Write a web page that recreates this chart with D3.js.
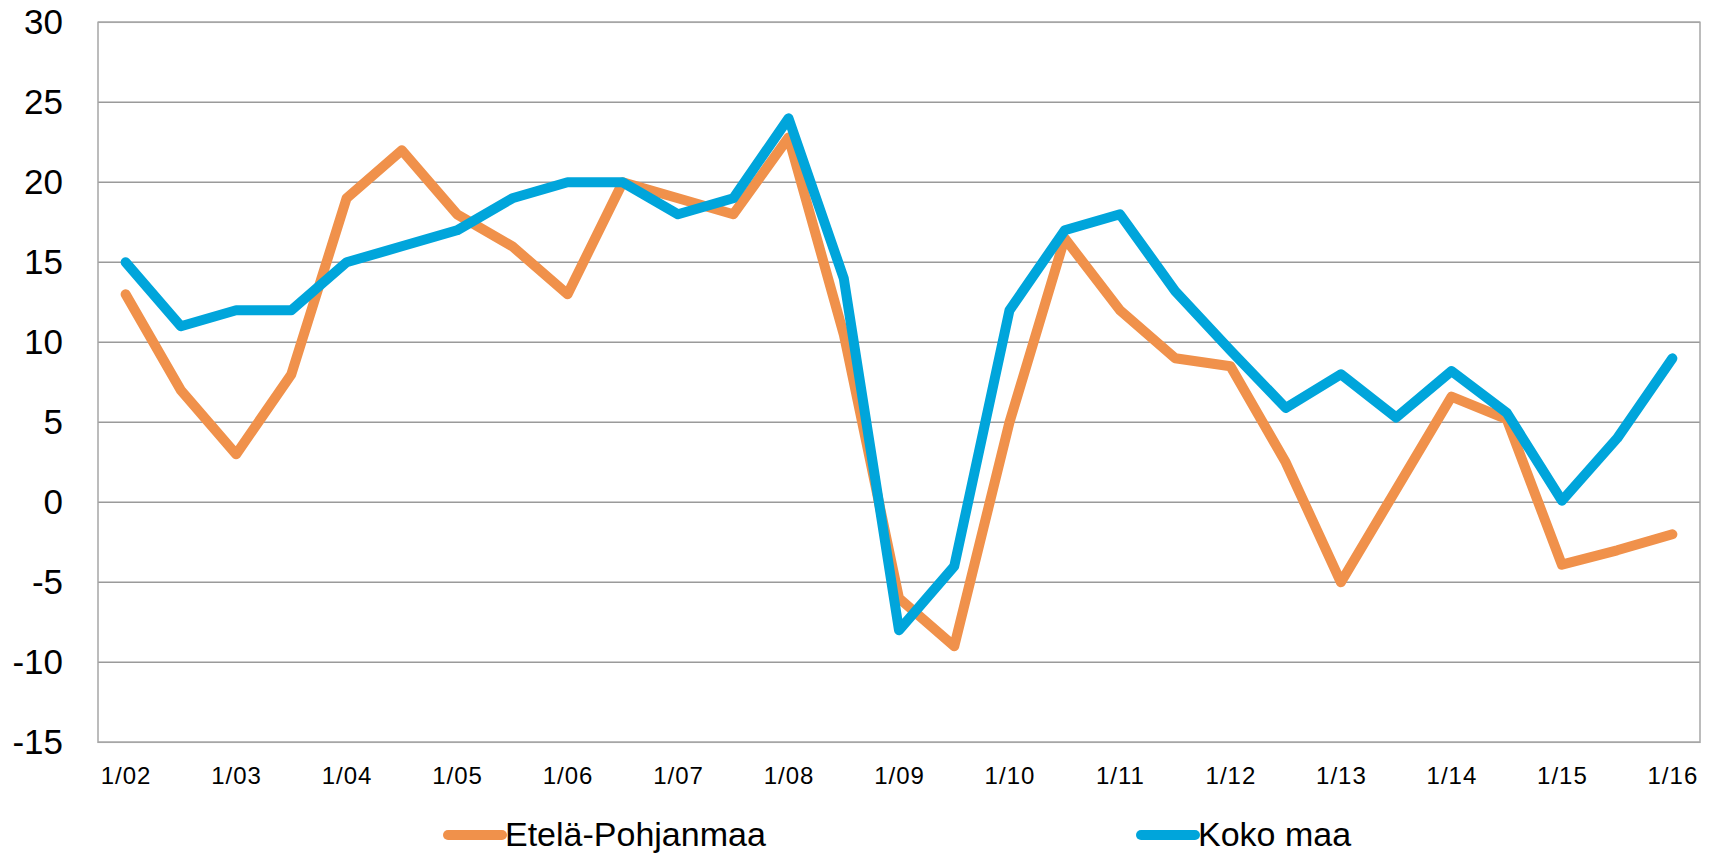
<!DOCTYPE html>
<html>
<head>
<meta charset="utf-8">
<script src="https://cdn.jsdelivr.net/npm/d3@7"></script>
<style>
  body { margin: 0; background: #fff; }
  text { font-family: "Liberation Sans", Arial, sans-serif; fill: #000; }
</style>
</head>
<body>
<script>
// half-year points, labels shown only for "1/yy"
var categories = ['1/02','7/02','1/03','7/03','1/04','7/04','1/05','7/05','1/06','7/06',
                  '1/07','7/07','1/08','7/08','1/09','7/09','1/10','7/10','1/11','7/11',
                  '1/12','7/12','1/13','7/13','1/14','7/14','1/15','7/15','1/16'];

var etelaPohjanmaa = [13, 7, 3, 8, 19, 22, 18, 16, 13, 20,
                      19, 18, 22.8, 10.5, -6, -9, 5, 16.5, 12, 9,
                      8.5, 2.5, -5, 0.8, 6.6, 5.2, -3.9, -3, -2];

var kokoMaa = [15, 11, 12, 12, 15, 16, 17, 19, 20, 20,
               18, 19, 24, 14, -8, -4, 12, 17, 18, 13.2,
               9.5, 5.9, 8, 5.3, 8.2, 5.6, 0.1, 4, 9];

var yTicks = [-15, -10, -5, 0, 5, 10, 15, 20, 25, 30];

var series = [
  { name: 'Etelä-Pohjanmaa', values: etelaPohjanmaa, color: '#F0914B' },
  { name: 'Koko maa',        values: kokoMaa,        color: '#00A5DB' }
];

var W = 1714, H = 854;
var plotL = 98, plotR = 1700, plotT = 22.3, plotB = 742.3;

var svg = d3.select('body').append('svg').attr('width', W).attr('height', H);

var x = d3.scalePoint().domain(categories).range([plotL, plotR]).padding(0.5);
var y = d3.scaleLinear().domain([-15, 30]).range([plotB, plotT]);

// gridlines
svg.selectAll('line.grid')
   .data(yTicks).enter().append('line')
   .attr('class', 'grid')
   .attr('x1', plotL).attr('x2', plotR)
   .attr('y1', d => y(d)).attr('y2', d => y(d))
   .attr('stroke', '#9a9a9a')
   .attr('stroke-width', 1.5);

// plot border
svg.append('rect')
   .attr('x', plotL).attr('y', plotT)
   .attr('width', plotR - plotL).attr('height', plotB - plotT)
   .attr('fill', 'none')
   .attr('stroke', '#a6a6a6')
   .attr('stroke-width', 1.5);

// y axis labels (plain hyphen for negatives)
var yAxis = svg.append('g')
   .attr('transform', 'translate(' + plotL + ',0)')
   .call(d3.axisLeft(y).tickValues(yTicks).tickFormat(d => String(d)).tickSize(0).tickPadding(35));
yAxis.select('.domain').remove();
yAxis.selectAll('text').attr('font-size', 35).style('font-family', '"Liberation Sans", Arial, sans-serif');

// x axis labels
var xAxis = svg.append('g')
   .attr('transform', 'translate(0,' + plotB + ')')
   .call(d3.axisBottom(x)
     .tickValues(categories.filter(c => c.indexOf('1/') === 0))
     .tickSize(0).tickPadding(25));
xAxis.select('.domain').remove();
xAxis.selectAll('text')
   .attr('font-size', 24)
   .attr('letter-spacing', 1)
   .style('font-family', '"Liberation Sans", Arial, sans-serif');

// lines
var line = d3.line()
   .x((d, i) => x(categories[i]))
   .y(d => y(d));

svg.selectAll('path.serie')
   .data(series).enter().append('path')
   .attr('class', 'serie')
   .attr('d', d => line(d.values))
   .attr('fill', 'none')
   .attr('stroke', d => d.color)
   .attr('stroke-width', 10)
   .attr('stroke-linecap', 'round')
   .attr('stroke-linejoin', 'round');

// legend
var legendX = [448, 1141];
var leg = svg.selectAll('g.legend')
   .data(series).enter().append('g')
   .attr('class', 'legend')
   .attr('transform', (d, i) => 'translate(' + legendX[i] + ',835)');

leg.append('line')
   .attr('x1', 0).attr('x2', 54)
   .attr('y1', 0).attr('y2', 0)
   .attr('stroke', d => d.color)
   .attr('stroke-width', 10)
   .attr('stroke-linecap', 'round');

leg.append('text')
   .attr('x', 57)
   .attr('y', 11)
   .attr('font-size', 34)
   .text(d => d.name);
</script>
</body>
</html>
